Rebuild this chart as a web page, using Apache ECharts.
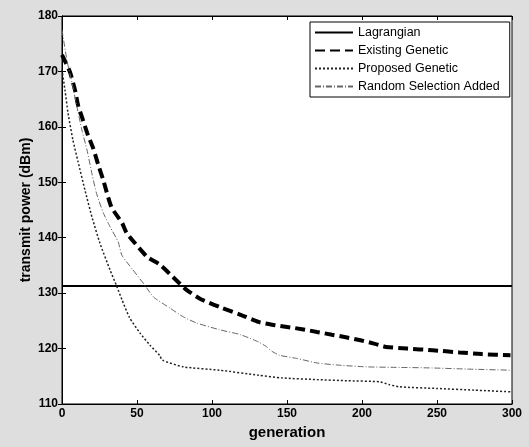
<!DOCTYPE html>
<html><head><meta charset="utf-8">
<script src="https://cdn.jsdelivr.net/npm/echarts@6/dist/echarts.min.js"></script>
<style>html,body{margin:0;padding:0;background:#dedede;}#c{width:529px;height:447px;}</style>
</head><body><div id="c"></div>
<script>
const seriesNames = ['Lagrangian','Existing Genetic','Proposed Genetic','Random Selection Added'];
const lagGen = [0, 300];
const lagVal = [131.3, 131.3];
const exGen = [0, 5.3, 8.7, 10.7, 14, 17.3, 20.7, 24, 27.5, 33, 40, 43, 48.7, 57, 65, 74, 83, 92, 105, 119, 131, 140, 150, 160, 170, 180, 190, 199, 208, 216, 230, 247, 265, 280, 299];
const exVal = [173, 169.9, 166.6, 163.9, 161.2, 158.5, 156.2, 153.3, 150.4, 145.5, 142.7, 140.9, 139, 136.5, 135.2, 132.9, 130.6, 129, 127.5, 126.1, 124.8, 124.3, 123.9, 123.5, 123.0, 122.5, 122.0, 121.5, 120.9, 120.3, 120.0, 119.7, 119.3, 119.0, 118.8];
const prGen = [0, 2, 4, 7.3, 10.7, 15.3, 20, 25.3, 32, 36.7, 40, 45, 52, 58.7, 65, 67, 81, 105, 131, 147, 170, 190, 212, 218, 225, 250, 275, 299];
const prVal = [170.3, 166.6, 162.5, 157.6, 153.7, 148.6, 143.7, 139, 134.2, 131.1, 128.8, 125.6, 122.8, 120.6, 118.8, 117.9, 116.7, 116.1, 115.2, 114.7, 114.4, 114.2, 114.0, 113.5, 113.1, 112.8, 112.5, 112.2];
const rsGen = [0, 3.3, 6.7, 10, 13.3, 16.7, 20, 23, 27.5, 32, 37.5, 40, 47, 55, 61, 72, 81, 90, 105, 119, 131, 136, 140, 145, 157, 170, 185, 203, 225, 247, 270, 299];
const rsVal = [177.5, 172, 167.9, 163.6, 159.4, 155.8, 151.5, 148, 144.5, 142, 139.2, 136.8, 134.3, 131.5, 129.3, 127.3, 125.7, 124.6, 123.4, 122.5, 121.2, 120.4, 119.5, 118.8, 118.2, 117.4, 117.0, 116.7, 116.6, 116.5, 116.3, 116.1];
const xTicks = [0, 50, 100, 150, 200, 250, 300];
const yTicks = [110, 120, 130, 140, 150, 160, 170, 180];
const zip = (a, b) => a.map((v, i) => [v, b[i]]);

const chart = echarts.init(document.getElementById('c'), null, {renderer: 'canvas'});
const lblFont = {fontFamily: 'Liberation Sans, Arial', fontWeight: 'bold', fontSize: 12, color: '#000'};
const axisCommon = {
  axisLine: {show: true, lineStyle: {color: '#000'}},
  axisTick: {inside: true, length: 4, lineStyle: {color: '#000'}},
  splitLine: {show: false}
};
chart.setOption({
  backgroundColor: '#dedede',
  animation: false,
  grid: {left: 62, right: 17, top: 16, bottom: 43, show: true, backgroundColor: '#fff', borderColor: '#000', borderWidth: 1},
  legend: {
    left: 310, top: 22, orient: 'vertical',
    backgroundColor: '#fff', borderColor: '#000', borderWidth: 1, borderRadius: 0,
    padding: [4, 10, 4, 4], itemGap: 5, itemWidth: 38, itemHeight: 13,
    itemStyle: {opacity: 0},
    textStyle: {fontFamily: 'Liberation Sans, Arial', fontSize: 12.5, color: '#000'},
    data: seriesNames
  },
  xAxis: [Object.assign({
    type: 'value', min: 0, max: 300, interval: 50,
    name: 'generation', nameLocation: 'middle', nameGap: 20,
    nameTextStyle: {fontFamily: 'Liberation Sans, Arial', fontWeight: 'bold', fontSize: 15, color: '#000'},
    axisLabel: Object.assign({margin: 4, formatter: v => xTicks.includes(v) ? String(v) : ''}, lblFont)
  }, axisCommon), Object.assign({
    type: 'value', min: 0, max: 300, interval: 50, position: 'top', axisLabel: {show: false}
  }, axisCommon)],
  yAxis: [Object.assign({
    type: 'value', min: 110, max: 180, interval: 10,
    name: 'transmit power (dBm)', nameLocation: 'middle', nameGap: 29, nameRotate: 90,
    nameMoveOverlap: false,
    nameTextStyle: {fontFamily: 'Liberation Sans, Arial', fontWeight: 'bold', fontSize: 14, color: '#000'},
    axisLabel: Object.assign({margin: 4, formatter: v => yTicks.includes(v) ? String(v) : ''}, lblFont)
  }, axisCommon), Object.assign({
    type: 'value', min: 110, max: 180, interval: 10, position: 'right', axisLabel: {show: false}
  }, axisCommon)],
  series: [
    {name: seriesNames[0], type: 'line', symbol: 'none', data: zip(lagGen, lagVal),
     lineStyle: {color: '#000', width: 2, type: 'solid'}, itemStyle: {color: '#000'}},
    {name: seriesNames[1], type: 'line', symbol: 'none', smooth: 0.2, data: zip(exGen, exVal),
     lineStyle: {color: '#000', width: 4, type: [10, 5]}, itemStyle: {color: '#000'}},
    {name: seriesNames[2], type: 'line', symbol: 'none', smooth: 0.2, data: zip(prGen, prVal),
     lineStyle: {color: '#222', width: 1.5, type: [2, 2]}, itemStyle: {color: '#222'}},
    {name: seriesNames[3], type: 'line', symbol: 'none', smooth: 0.2, data: zip(rsGen, rsVal),
     lineStyle: {color: '#666', width: 1, type: [6, 2, 1, 2]}, itemStyle: {color: '#666'}}
  ]
});
</script></body></html>
